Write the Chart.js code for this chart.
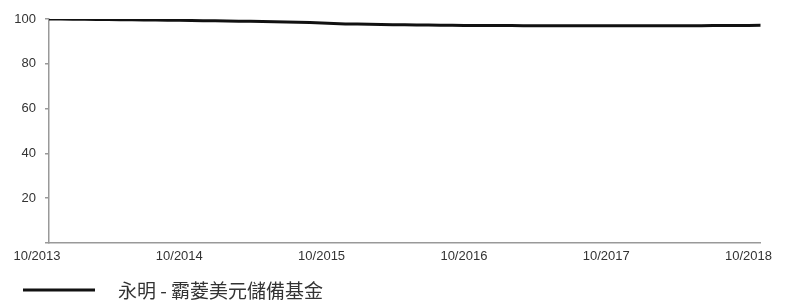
<!DOCTYPE html>
<html>
<head>
<meta charset="utf-8">
<script src="https://cdn.jsdelivr.net/npm/chart.js@4/dist/chart.umd.min.js"></script>
<style>
html,body{margin:0;padding:0;background:#fff;}
#wrap{width:790px;height:300px;position:relative;}
</style>
</head>
<body>
<div id="wrap"><canvas id="c" width="790" height="300"></canvas></div>
<script>
// Months from 10/2013 to 10/2018
const months = [
 '10/2013','11/2013','12/2013',
 '01/2014','02/2014','03/2014','04/2014','05/2014','06/2014','07/2014','08/2014','09/2014','10/2014','11/2014','12/2014',
 '01/2015','02/2015','03/2015','04/2015','05/2015','06/2015','07/2015','08/2015','09/2015','10/2015','11/2015','12/2015',
 '01/2016','02/2016','03/2016','04/2016','05/2016','06/2016','07/2016','08/2016','09/2016','10/2016','11/2016','12/2016',
 '01/2017','02/2017','03/2017','04/2017','05/2017','06/2017','07/2017','08/2017','09/2017','10/2017','11/2017','12/2017',
 '01/2018','02/2018','03/2018','04/2018','05/2018','06/2018','07/2018','08/2018','09/2018','10/2018'
];
const fundValues = [
 100.0, 99.95, 99.9,
 99.85, 99.8, 99.75, 99.7, 99.62, 99.56, 99.5, 99.45, 99.4, 99.32, 99.26, 99.2,
 99.15, 99.05, 98.95, 98.85, 98.75, 98.65, 98.55, 98.42, 98.2, 97.98, 97.82, 97.72,
 97.62, 97.55, 97.48, 97.4, 97.35, 97.3, 97.25, 97.2, 97.15, 97.1, 97.1, 97.05,
 97.05, 97.0, 97.0, 97.0, 96.98, 96.95, 96.95, 96.95, 96.95, 96.95, 96.95, 96.95,
 96.95, 96.95, 96.95, 96.98, 97.0, 97.05, 97.1, 97.12, 97.15, 97.2
];
const yTicks = [20, 40, 60, 80, 100];
const seriesName = '永明 - 霸菱美元儲備基金';

const legendPlugin = {
  id: 'customLegend',
  afterDraw(chart) {
    const ctx = chart.ctx;
    const ds = chart.data.datasets[0];
    const y = 290;
    ctx.save();
    ctx.strokeStyle = ds.borderColor;
    ctx.lineWidth = 3;
    ctx.beginPath();
    ctx.moveTo(23, y);
    ctx.lineTo(95, y);
    ctx.stroke();
    ctx.fillStyle = '#333';
    ctx.font = '19px "Noto Sans CJK TC"';
    ctx.textBaseline = 'middle';
    ctx.textAlign = 'left';
    ctx.fillText(ds.label, 118, y + 1);
    ctx.restore();
  }
};

new Chart(document.getElementById('c'), {
  type: 'line',
  data: {
    labels: months,
    datasets: [{
      label: seriesName,
      data: fundValues,
      borderColor: '#111',
      borderWidth: 3,
      pointRadius: 0,
      tension: 0,
      fill: false
    }]
  },
  options: {
    responsive: false,
    animation: false,
    layout: { padding: { left: 0, right: 27, top: 19, bottom: 27 } },
    plugins: { legend: { display: false }, tooltip: { enabled: false } },
    scales: {
      x: {
        offset: false,
        grid: { display: false, drawTicks: false },
        border: { display: true, color: '#999', width: 1.5 },
        ticks: {
          autoSkip: false,
          maxRotation: 0,
          minRotation: 0,
          labelOffset: -12,
          padding: 6,
          color: '#333',
          font: { family: '"Liberation Sans", Arial', size: 13 },
          callback: (v, i) => (i % 12 === 0 ? months[i] : '')
        },
        afterFit: (s) => { s.height = 30; }
      },
      y: {
        min: 0,
        max: 100,
        afterBuildTicks: (s) => { s.ticks = [0].concat(yTicks).map(v => ({ value: v })); },
        grid: { drawOnChartArea: false, drawTicks: true, tickLength: 4, color: '#999', lineWidth: 1.5 },
        border: { display: true, color: '#999', width: 1.5 },
        ticks: {
          padding: 9,
          color: '#333',
          font: { family: '"Liberation Sans", Arial', size: 13 },
          callback: (v) => (v === 0 ? '' : String(v))
        },
        afterFit: (s) => { s.width = 49; }
      }
    }
  },
  plugins: [legendPlugin]
});
</script>
</body>
</html>
